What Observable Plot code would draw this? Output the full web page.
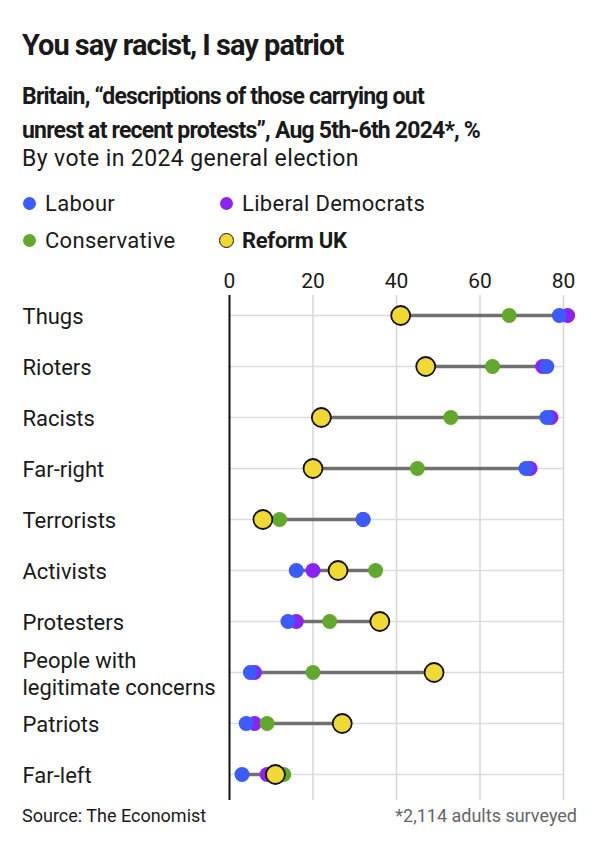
<!DOCTYPE html>
<html>
<head>
<meta charset="utf-8">
<script src="https://cdn.jsdelivr.net/npm/d3@7"></script>
<script src="https://cdn.jsdelivr.net/npm/@observablehq/plot@0.6"></script>
<style>
  html, body { margin: 0; padding: 0; background: #fff; }
  #root { position: relative; width: 600px; height: 842px; font-family: Roboto, "Noto Sans", sans-serif; color: #1a1a1a; overflow: hidden; }
  .abs { position: absolute; white-space: nowrap; }
  #title { left: 22px; top: 28px; font-size: 29px; font-weight: 700; letter-spacing: -1px; }
  #sub { left: 22px; top: 80px; font-size: 23px; font-weight: 700; line-height: 34px; letter-spacing: -0.8px; }
  #sub2 { left: 22px; top: 145px; font-size: 23px; font-weight: 400; letter-spacing: 0.4px; }
  .leg { font-size: 22px; display: flex; align-items: center; letter-spacing: 0.3px; }
  .sw { width: 13px; height: 13px; border-radius: 50%; margin-right: 9px; box-sizing: border-box; }
  #chart { left: 0; top: 265px; }
  #source { left: 22px; top: 805px; font-size: 18px; }
  #note { right: 23px; top: 805px; font-size: 18px; color: #666; }
</style>
</head>
<body>
<div id="root">
  <div id="title" class="abs">You say racist, I say patriot</div>
  <div id="sub" class="abs">Britain, “descriptions of those carrying out<br>unrest at recent protests”, Aug 5th-6th 2024*, %</div>
  <div id="sub2" class="abs">By vote in 2024 general election</div>
  <div id="legend"></div>
  <div id="chart" class="abs"></div>
  <div id="source" class="abs">Source: The Economist</div>
  <div id="note" class="abs">*2,114 adults surveyed</div>
</div>
<script>
const categories = ["Thugs", "Rioters", "Racists", "Far-right", "Terrorists", "Activists", "Protesters", "People with\nlegitimate concerns", "Patriots", "Far-left"];
const libDem       = [81, 75, 77, 72, 32, 20, 16, 6, 6, 9];
const labour       = [79, 76, 76, 71, 32, 16, 14, 5, 4, 3];
const conservative = [67, 63, 53, 45, 12, 35, 24, 20, 9, 13];
const reform       = [41, 47, 22, 20, 8, 26, 36, 49, 27, 11];
const xTicks = [0, 20, 40, 60, 80];

const partyNames = ["Labour", "Liberal Democrats", "Conservative", "Reform UK"];
const partyColors = {"Labour": "#3b5cfb", "Liberal Democrats": "#8b24f2", "Conservative": "#62a82c", "Reform UK": "#f1d935"};

// legend
const legendPos = [
  {name: "Labour", left: 23, top: 191},
  {name: "Liberal Democrats", left: 220, top: 191},
  {name: "Conservative", left: 23, top: 228},
  {name: "Reform UK", left: 219, top: 228}
];
const legend = document.getElementById("legend");
legendPos.forEach(p => {
  const d = document.createElement("div");
  d.className = "abs leg";
  d.style.left = p.left + "px";
  d.style.top = p.top + "px";
  const sw = document.createElement("span");
  sw.className = "sw";
  sw.style.background = partyColors[p.name];
  if (p.name === "Reform UK") { sw.style.border = "1.8px solid #111"; sw.style.width = "15px"; sw.style.height = "15px"; sw.style.marginRight = "8px"; }
  const t = document.createElement("span");
  t.textContent = p.name;
  if (p.name === "Reform UK") { t.style.fontWeight = "700"; t.style.letterSpacing = "-0.3px"; }
  d.appendChild(sw); d.appendChild(t);
  legend.appendChild(d);
});

const rows = categories.map((c, i) => {
  const vals = [libDem[i], labour[i], conservative[i], reform[i]];
  return {cat: c, min: d3.min(vals), max: d3.max(vals)};
});
const others = [];
categories.forEach((c, i) => {
  others.push({cat: c, party: "Liberal Democrats", value: libDem[i]});
  others.push({cat: c, party: "Labour", value: labour[i]});
  others.push({cat: c, party: "Conservative", value: conservative[i]});
});
const reformRows = categories.map((c, i) => ({cat: c, party: "Reform UK", value: reform[i]}));

const chart = Plot.plot({
  width: 600,
  height: 540,
  marginLeft: 229,
  marginRight: 37,
  marginTop: 30,
  marginBottom: 5,
  style: {fontFamily: "Roboto, sans-serif", fontSize: "21px", color: "#1a1a1a", overflow: "visible", background: "transparent"},
  x: {domain: [0, 80], axis: "top", ticks: xTicks, tickSize: 0, tickPadding: 8, label: null},
  y: {type: "point", domain: categories, axis: null, padding: 0, insetTop: 17, insetBottom: 24},
  color: {type: "identity"},
  marks: [
    Plot.ruleX(xTicks.filter(t => t > 0), {stroke: "#d6d6d6", strokeWidth: 1.5}),
    Plot.ruleY(categories, {y: d => d, x1: 0, x2: 80, stroke: "#dcdcdc", strokeWidth: 1.5}),
    Plot.ruleY(rows, {y: "cat", x1: "min", x2: "max", stroke: "#707070", strokeWidth: 3.5}),
    Plot.dot(others, {x: "value", y: "cat", r: 7.5, fill: d => partyColors[d.party], stroke: "none"}),
    Plot.dot(reformRows, {x: "value", y: "cat", r: 9.5, fill: d => partyColors[d.party], stroke: "#111", strokeWidth: 1.8}),
    Plot.ruleX([0], {stroke: "#111", strokeWidth: 2}),
    Plot.text(categories, {y: d => d, frameAnchor: "left", dx: -207, textAnchor: "start", fontSize: 22, lineHeight: 1.25, fill: "#1a1a1a"})
  ]
});
document.getElementById("chart").appendChild(chart);
</script>
</body>
</html>
